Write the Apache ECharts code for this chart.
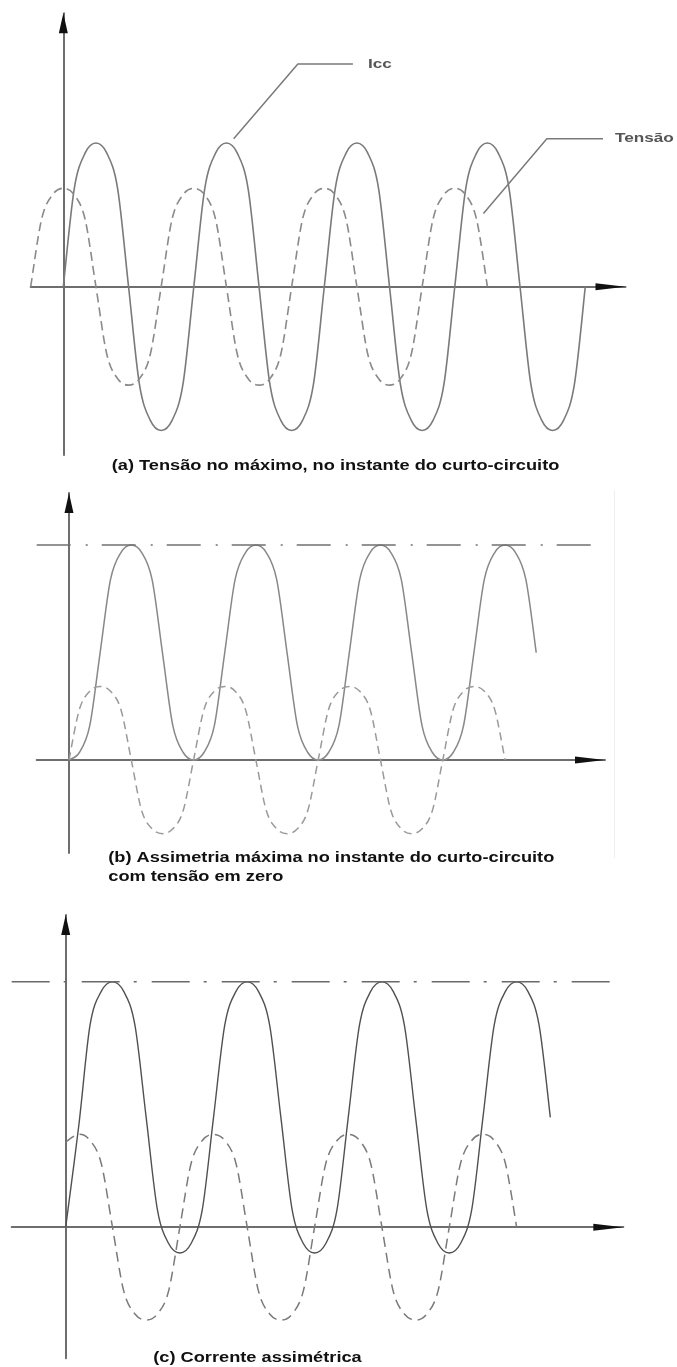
<!DOCTYPE html>
<html>
<head>
<meta charset="utf-8">
<script src="https://cdn.jsdelivr.net/npm/echarts@6/dist/echarts.min.js"></script>
<style>
  html, body { margin: 0; padding: 0; background: #fff; }
  #main { width: 677px; height: 1367px; }
</style>
</head>
<body>
<div id="main"></div>
<script>
// x = electrical angle in degrees, y = per-unit value (Icc ac amplitude = 1)

// (a) tensao no maximo
var aIccX = [0,30,60,90,120,150,180,210,240,270,300,330,360,390,420,450,480,510,540,570,600,630,660,690,
  720,750,780,810,840,870,900,930,960,990,1020,1050,1080,1110,1140,1170,1200,1230,1260,1290,1320,1350,1380,1410,1440];
var aIcc = [0,.68,.93,1,.93,.68,0,-.68,-.93,-1,-.93,-.68,
  0,.68,.93,1,.93,.68,0,-.68,-.93,-1,-.93,-.68,
  0,.68,.93,1,.93,.68,0,-.68,-.93,-1,-.93,-.68,
  0,.68,.93,1,.93,.68,0,-.68,-.93,-1,-.93,-.68, 0];
var aTensaoX = [-90,-60,-30,0,30,60,90,120,150,180,210,240,270,300,330,360,390,420,450,480,510,540,570,600,
  630,660,690,720,750,780,810,840,870,900,930,960,990,1020,1050,1080,1110,1140,1170];
var aTensao = [0,.47,.64,.685,.64,.47,0,-.47,-.64,-.685,-.64,-.47,
  0,.47,.64,.685,.64,.47,0,-.47,-.64,-.685,-.64,-.47,
  0,.47,.64,.685,.64,.47,0,-.47,-.64,-.685,-.64,-.47,
  0,.47,.64,.685,.64,.47,0];
var aIccLeader = [[470, 1.03], [647, 1.55], [799, 1.55]];
var aTensaoLeader = [[1159, .51], [1334, 1.03], [1489, 1.03]];

// (b) assimetria maxima
var bIccX = [0,30,60,90,120,150,180,210,240,270,300,330,360,390,420,450,480,510,540,570,600,630,660,690,
  720,750,780,810,840,870,900,930,960,990,1020,1050,1080,1110,1140,1170,1200,1230,1260,1290,1320,1350];
var bIcc = [0,.07,.32,1,1.68,1.93,2,1.93,1.68,1,.32,.07,
  0,.07,.32,1,1.68,1.93,2,1.93,1.68,1,.32,.07,
  0,.07,.32,1,1.68,1.93,2,1.93,1.68,1,.32,.07,
  0,.07,.32,1,1.68,1.93,2,1.93,1.68,1];
var bTensaoX = [0,30,60,90,120,150,180,210,240,270,300,330,360,390,420,450,480,510,540,570,600,630,660,690,
  720,750,780,810,840,870,900,930,960,990,1020,1050,1080,1110,1140,1170,1200,1230,1260];
var bTensao = [0,.47,.64,.685,.64,.47,0,-.47,-.64,-.685,-.64,-.47,
  0,.47,.64,.685,.64,.47,0,-.47,-.64,-.685,-.64,-.47,
  0,.47,.64,.685,.64,.47,0,-.47,-.64,-.685,-.64,-.47,
  0,.47,.64,.685,.64,.47,0];
var bPico = [[-93.3, 2], [1514, 2]];

// (c) corrente assimetrica
var cIccX = [0,35,65,95,125,155,185,215,245,275,305,335,365,395,425,455,485,515,545,575,605,635,665,695,
  725,755,785,815,845,875,905,935,965,995,1025,1055,1085,1115,1145,1175,1205,1235,1265,1295];
var cIcc = [0,.75,1.49,1.74,
  1.81,1.74,1.49,.81,.13,-.12,-.19,-.12,.13,.81,1.49,1.74,
  1.81,1.74,1.49,.81,.13,-.12,-.19,-.12,.13,.81,1.49,1.74,
  1.81,1.74,1.49,.81,.13,-.12,-.19,-.12,.13,.81,1.49,1.74,
  1.81,1.74,1.49,.81];
var cTensaoX = [0,35,65,95,125,155,185,215,245,275,305,335,365,395,425,455,485,515,545,575,605,635,665,695,
  725,755,785,815,845,875,905,935,965,995,1025,1055,1085,1115,1145,1175,1205];
var cTensao = [.63,
  .685,.64,.47,0,-.47,-.64,-.685,-.64,-.47,0,.47,.64,
  .685,.64,.47,0,-.47,-.64,-.685,-.64,-.47,0,.47,.64,
  .685,.64,.47,0,-.47,-.64,-.685,-.64,-.47,0,.47,.64,
  .685,.64,.47,0];
var cPico = [[-144.3, 1.81], [1459, 1.81]];

var captions = [
  '(a) Tensão no máximo, no instante do curto-circuito',
  '(b) Assimetria máxima no instante do curto-circuito',
  'com tensão em zero',
  '(c) Corrente assimétrica'
];

var panels = [
  { left: 30.7, top: 13.3, width: 594.8, height: 441.7, xmin: -90, xmax: 1551, ymin: -1.171, ymax: 1.903 },
  { left: 36.7, top: 493, width: 568.3, height: 360, xmin: -93.3, xmax: 1548.7, ymin: -0.865, ymax: 2.484 },
  { left: 11.7, top: 915, width: 611.6, height: 443.3, xmin: -144.3, xmax: 1490, ymin: -0.967, ymax: 2.303 }
];

function zip(xs, ys) {
  return xs.map(function (x, i) { return [x, ys[i]]; });
}

var grids = [], xAxes = [], yAxes = [];
panels.forEach(function (p, i) {
  grids.push({ left: p.left, top: p.top, width: p.width, height: p.height, outerBoundsMode: 'none' });
  var hidden = { axisTick: { show: false }, axisLabel: { show: false }, splitLine: { show: false } };
  // gray line
  xAxes.push(Object.assign({ type: 'value', gridIndex: i, min: p.xmin, max: p.xmax,
    axisLine: { show: true, onZero: true, lineStyle: { color: '#6e6e6e', width: 2 } } }, hidden));
  // black arrow head only
  xAxes.push(Object.assign({ type: 'value', gridIndex: i, min: p.xmin, max: p.xmax,
    axisLine: { show: true, onZero: true, symbol: ['none', 'triangle'], symbolSize: [7, 30], symbolOffset: [0, -15],
      lineStyle: { color: '#111', width: 0 } } }, hidden));
  yAxes.push(Object.assign({ type: 'value', gridIndex: i, min: p.ymin, max: p.ymax,
    axisLine: { show: true, onZero: true, lineStyle: { color: '#6e6e6e', width: 2 } } }, hidden));
  yAxes.push(Object.assign({ type: 'value', gridIndex: i, min: p.ymin, max: p.ymax, position: 'left',
    axisLine: { show: true, onZero: true, symbol: ['none', 'triangle'], symbolSize: [9, 20], symbolOffset: [0, -10],
      lineStyle: { color: '#111', width: 0 } } }, hidden));
});

// smooth curve through the read points (Catmull-Rom), positioned by the axes
function curve(gi, xs, ys, color, width, dash) {
  return {
    type: 'custom', coordinateSystem: 'cartesian2d', xAxisIndex: gi * 2, yAxisIndex: gi * 2,
    data: zip(xs, ys), silent: true, z: 3,
    renderItem: function (params, api) {
      if (params.dataIndex !== 0) return;
      var p = xs.map(function (x, i) { return api.coord([x, ys[i]]); });
      var n = p.length;
      var d = 'M' + p[0][0] + ',' + p[0][1];
      for (var i = 0; i < n - 1; i++) {
        var p0 = p[Math.max(i - 1, 0)], p1 = p[i], p2 = p[i + 1], p3 = p[Math.min(i + 2, n - 1)];
        d += 'C' + (p1[0] + (p2[0] - p0[0]) / 6) + ',' + (p1[1] + (p2[1] - p0[1]) / 6) + ',' +
          (p2[0] - (p3[0] - p1[0]) / 6) + ',' + (p2[1] - (p3[1] - p1[1]) / 6) + ',' + p2[0] + ',' + p2[1];
      }
      return { type: 'path', shape: { pathData: d },
        style: { fill: 'none', stroke: color, lineWidth: width, lineDash: dash } };
    }
  };
}

function line(gi, data, color, width, type) {
  return {
    type: 'line', xAxisIndex: gi * 2, yAxisIndex: gi * 2, data: data,
    showSymbol: false, symbol: 'none', silent: true, z: 3,
    lineStyle: { color: color, width: width, type: type }
  };
}

var series = [
  curve(0, aIccX, aIcc, '#7a7a7a', 1.6, null),
  curve(0, aTensaoX, aTensao, '#8a8a8a', 1.6, [9, 5]),
  line(0, aIccLeader, '#7a7a7a', 1.5, 'solid'),
  line(0, aTensaoLeader, '#7a7a7a', 1.5, 'solid'),

  line(1, bPico, '#707070', 1.5, [34, 15, 2, 14]),
  curve(1, bIccX, bIcc, '#888888', 1.5, null),
  curve(1, bTensaoX, bTensao, '#9a9a9a', 1.5, [8, 5]),

  line(2, cPico, '#6a6a6a', 1.5, [38, 14, 3, 15]),
  curve(2, cIccX, cIcc, '#505050', 1.4, null),
  curve(2, cTensaoX, cTensao, '#7a7a7a', 1.5, [10, 6])
];

var capFont = 'bold 14px "Liberation Sans", Arial, sans-serif';
var lblFont = 'bold 13px "Liberation Sans", Arial, sans-serif';
function txt(x, y, s, font, fill, sx) {
  return { type: 'text', x: x, y: y, scaleX: sx, silent: true, z: 10,
    style: { text: s, font: font, fill: fill, align: 'left', verticalAlign: 'middle' } };
}

var chart = echarts.init(document.getElementById('main'), null, { renderer: 'canvas' });
chart.setOption({
  backgroundColor: '#fff',
  animation: false,
  grid: grids,
  xAxis: xAxes,
  yAxis: yAxes,
  series: series,
  graphic: [
    txt(368, 64.3, 'Icc', lblFont, '#555', 1.32),
    txt(615, 138.3, 'Tensão', lblFont, '#555', 1.32),
    txt(111.7, 466, captions[0], capFont, '#111', 1.3),
    txt(108.3, 858.3, captions[1], capFont, '#111', 1.3),
    txt(108.3, 876.7, captions[2], capFont, '#111', 1.3),
    txt(153.3, 1357.7, captions[3], capFont, '#111', 1.3),
    { type: 'line', silent: true, shape: { x1: 614.5, y1: 490, x2: 614.5, y2: 858 }, style: { stroke: '#efefef', lineWidth: 1 } }
  ]
});
</script>
</body>
</html>
